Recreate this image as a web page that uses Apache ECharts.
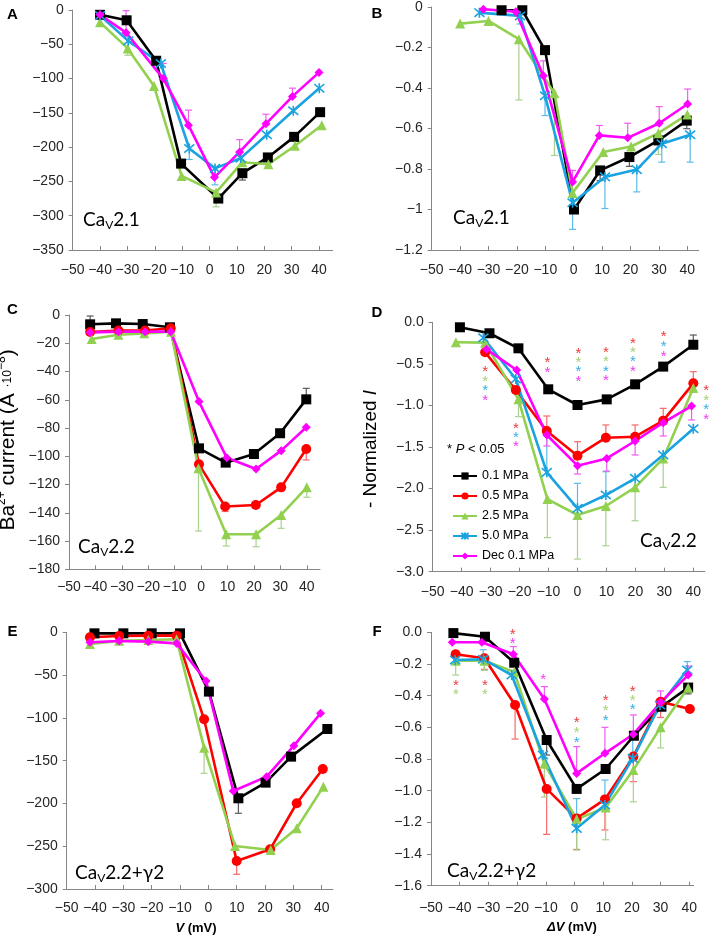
<!DOCTYPE html>
<html><head><meta charset="utf-8">
<script src="https://cdn.jsdelivr.net/npm/echarts@6/dist/echarts.min.js"></script>
<style>html,body{margin:0;padding:0;background:#fff}#c{width:709px;height:938px}</style>
</head><body><div id="c"></div>
<script>
// ---------- DATA ----------
const TICKS_X = [-50,-40,-30,-20,-10,0,10,20,30,40];
const SERIES_NAMES = {k01:'0.1 MPa', k05:'0.5 MPa', k25:'2.5 MPa', k50:'5.0 MPa', kDec:'Dec 0.1 MPa'};

// Panel A (CaV2.1, current)
const A_k01_V = [-40, -30.3, -19.5, -10.4, 3.2, 12, 21.3, 30.9, 40.4];
const A_k01_I = [-7, -15, -74, -224, -275, -238, -215, -185, -149];
const A_k01_E = [null, null, null, null, null, -10, null, null, null];
const A_k25_V = [-40, -29.9, -20.3, -10.2, 2.4, 12, 21.5, 31.2, 41];
const A_k25_I = [-18, -56, -111, -242, -266, -222, -225, -198, -168];
const A_k25_E = [null, -10, null, null, -21, null, -6, null, null];
const A_k50_V = [-40, -29.7, -17.8, -7.4, 2, 11.4, 20.9, 30.6, 40.1];
const A_k50_I = [-8, -45, -78, -202, -231, -216, -182, -147, -114];
const A_k50_E = [null, null, null, -16, -24, null, null, null, null];
const A_kDec_V = [-40, -30.5, -16.9, -7.7, 1.8, 11, 20.6, 30.3, 40];
const A_kDec_I = [-7, -33, -100, -168, -244, -207, -166, -126, -91];
const A_kDec_E = [null, 32, 22, 22, null, 18, 14, 12, null];

// Panel B (CaV2.1, normalized)
const B_k01_V = [-25.4, -18.1, -10.1, 0.1, 9.3, 19.6, 29.8, 39.8];
const B_k01_I = [-0.016, -0.016, -0.213, -1.0, -0.807, -0.741, -0.659, -0.561];
const B_k01_E = [null, null, null, null, -0.05, -0.046, null, -0.04];
const B_k25_V = [-40, -30, -19.3, -6.8, -0.4, 10.4, 20.2, 29.8, 40];
const B_k25_I = [-0.082, -0.069, -0.159, -0.426, -0.918, -0.716, -0.689, -0.623, -0.531];
const B_k25_E = [null, null, -0.3, -0.307, null, null, -0.04, -0.105, null];
const B_k50_V = [-33.2, -18.9, -10.1, -0.4, 11, 22.2, 31, 41];
const B_k50_I = [-0.028, -0.044, -0.438, -0.967, -0.839, -0.803, -0.675, -0.631];
const B_k50_E = [null, -0.04, -0.098, -0.131, -0.156, -0.11, -0.091, -0.135];
const B_kDec_V = [-31.8, -20.4, -10.7, -0.4, 9, 19, 30.1, 40.1];
const B_kDec_I = [-0.011, -0.023, -0.339, -0.864, -0.634, -0.646, -0.574, -0.479];
const B_kDec_E = [null, null, 0.073, 0.057, 0.049, 0.072, 0.082, 0.074];

// Panel C (CaV2.2, current)
const C_k01_V = [-42, -32.2, -22.1, -11.8, -0.8, 9.3, 20, 29.9, 39.8];
const C_k01_I = [-6.6, -5.9, -6.4, -8.7, -94.4, -104.5, -98.4, -83.7, -59.7];
const C_k01_E = [5.9, null, null, null, null, null, null, null, 7.8];
const C_k05_V = [-42, -31.3, -21.2, -11.5, -0.8, 9.1, 20.7, 30.3, 39.8];
const C_k05_I = [-12, -11, -11, -9.4, -105.7, -135.6, -134.5, -122, -94.8];
const C_k05_E = [null, null, null, null, null, -3.5, null, null, -7.8];
const C_k25_V = [-41.4, -31.3, -21.5, -11.4, -1, 9.5, 20.8, 30.3, 40];
const C_k25_I = [-17, -14, -13, -11.8, -108.5, -155.2, -155.2, -141.5, -122];
const C_k25_E = [null, null, null, null, -44.4, -8.3, -8.8, -9.5, -7];
const C_kDec_V = [-42, -31.3, -21.2, -11.5, -0.8, 9.7, 20.8, 30.3, 39.8];
const C_kDec_I = [-12.3, -11.8, -11.8, -11.8, -61.3, -101, -109, -96, -79.5];
const C_kDec_E = [null, null, null, null, null, null, null, null, null];

// Panel D (CaV2.2, normalized)
const D_k01_V = [-40.6, -30.4, -20.4, -10.1, 0, 10.1, 19.9, 29.6, 40];
const D_k01_I = [-0.06, -0.132, -0.313, -0.806, -0.995, -0.927, -0.746, -0.533, -0.27];
const D_k01_E = [null, null, 0.03, null, null, null, null, null, 0.117];
const D_k05_V = [-31.9, -21.3, -10.6, 0, 9.8, 19.9, 29.6, 40];
const D_k05_I = [-0.361, -0.814, -1.308, -1.604, -1.388, -1.376, -1.183, -0.734];
const D_k05_E = [null, null, 0.181, 0.168, 0.153, 0.141, 0.148, 0.14];
const D_k25_V = [-42, -31.9, -20.4, -10.4, 0, 9.8, 19.9, 29.6, 40];
const D_k25_I = [-0.24, -0.245, -0.927, -2.126, -2.318, -2.21, -1.985, -1.637, -0.79];
const D_k25_E = [null, null, -0.208, -0.464, -0.53, -0.477, -0.402, -0.348, null];
const D_k50_V = [-32.5, -21.3, -10.6, 0, 9.8, 19.9, 29.6, 40];
const D_k50_I = [-0.185, -0.682, -1.805, -2.238, -2.078, -1.877, -1.596, -1.28];
const D_k50_E = [null, null, 0.477, 0.301, 0.281, null, null, null];
const D_kDec_V = [-31.4, -21, -10.6, 0, 10.1, 19.9, 29.6, 39.4];
const D_kDec_I = [-0.325, -0.574, -1.356, -1.725, -1.637, -1.428, -1.207, -1.007];
const D_kDec_E = [null, null, -0.132, -0.1, -0.152, -0.168, -0.161, -0.168];

// Panel E (CaV2.2+γ2, current)
const E_k01_V = [-40.2, -30, -20, -10, 0.2, 10.6, 20.2, 29.2, 42];
const E_k01_I = [-1.2, -1.2, -1.2, -1.2, -69.3, -194, -175.7, -145.3, -113];
const E_k01_E = [null, null, null, null, null, -17.5, null, null, null];
const E_k05_V = [-41.8, -31.5, -21.2, -11.2, -1.5, 10, 21.8, 31.2, 40.4];
const E_k05_I = [-5.8, -4.3, -3.9, -3.9, -101.7, -267.2, -253.6, -199.8, -159.7];
const E_k05_E = [null, null, null, null, null, -15.6, null, null, null];
const E_k25_V = [-41.8, -31.5, -21.2, -11.2, -1.5, 9.4, 22, 31.2, 40.6];
const E_k25_I = [-13.6, -10, -9, -8.2, -134.8, -249.7, -254.4, -229, -180.4];
const E_k25_E = [null, null, null, null, -30, null, null, null, null];
const E_kDec_V = [-41.8, -31.5, -21.2, -11.2, -0.8, 8.8, 20.6, 30.2, 39.6];
const E_kDec_I = [-11.7, -10.1, -10.9, -12.9, -56.9, -185.4, -168.7, -132.5, -94.7];
const E_kDec_E = [null, null, null, null, null, null, null, null, null];

// Panel F (CaV2.2+γ2, normalized)
const F_k01_V = [-42.2, -31.2, -21, -9.7, 0.75, 10.85, 20.7, 30.3, 39.6];
const F_k01_I = [-0.005, -0.028, -0.192, -0.68, -0.989, -0.863, -0.653, -0.47, -0.349];
const F_k01_E = [null, null, null, -0.095, null, null, null, null, -0.04];
const F_k05_V = [-41.4, -31.4, -20.7, -9.7, 0.75, 10.6, 20.5, 30, 40.2];
const F_k05_I = [-0.139, -0.164, -0.459, -0.989, -1.175, -1.055, -0.785, -0.438, -0.484];
const F_k05_E = [null, -0.07, -0.215, -0.287, -0.196, -0.193, -0.158, -0.1, null];
const F_k25_V = [-41.4, -31.4, -21, -10.5, 0.75, 10.85, 20.5, 30, 39.6];
const F_k25_I = [-0.18, -0.18, -0.25, -0.83, -1.18, -1.107, -0.87, -0.6, -0.35];
const F_k25_E = [-0.09, -0.06, null, -0.21, -0.195, -0.203, -0.2, -0.13, null];
const F_k50_V = [-41.6, -31.8, -21.9, -11, 0.75, 10.6, 20.3, 29.8, 39.3];
const F_k50_I = [-0.175, -0.17, -0.27, -0.775, -1.238, -1.09, -0.796, -0.459, -0.238];
const F_k50_E = [0.055, 0.06, null, null, 0.188, 0.157, 0.133, null, 0.053];
const F_kDec_V = [-42.6, -32.3, -21.3, -10.5, 0.75, 10.6, 20.5, 30, 39.6];
const F_kDec_I = [-0.063, -0.063, -0.139, -0.421, -0.891, -0.764, -0.644, -0.442, -0.27];
const F_kDec_E = [null, null, 0.049, 0.078, 0.169, 0.164, 0.122, 0.072, 0.057];

// Significance asterisks: [V, position, series]
const D_SIG = [
  [-31.9,-0.566,'k05'],[-31.9,-0.682,'k25'],[-31.9,-0.786,'k50'],[-31.9,-0.906,'kDec'],
  [-21.3,-1.243,'k05'],[-21.3,-1.356,'k50'],[-21.3,-1.468,'kDec'],
  [-10.4,-0.453,'k05'],[-10.4,-0.574,'kDec'],
  [0.3,-0.341,'k05'],[0.3,-0.453,'k25'],[0.3,-0.562,'k50'],[0.3,-0.682,'kDec'],
  [9.8,-0.333,'k05'],[9.8,-0.445,'k25'],[9.8,-0.562,'k50'],[9.8,-0.674,'kDec'],
  [19.1,-0.221,'k05'],[19.1,-0.333,'k25'],[19.1,-0.445,'k50'],[19.1,-0.562,'kDec'],
  [29.8,-0.144,'k05'],[29.8,-0.265,'k50'],[29.8,-0.381,'kDec'],
  [44.4,-0.794,'k05'],[44.4,-0.914,'k25'],[44.4,-1.023,'k50'],[44.4,-1.143,'kDec']
];
const F_SIG = [
  [-41.3,-0.318,'k05'],[-41.3,-0.379,'k25'],
  [-31.2,-0.318,'k05'],[-31.2,-0.379,'k25'],
  [-21.5,0.004,'k05'],[-21.5,-0.055,'kDec'],
  [-10.9,-0.28,'kDec'],
  [0.75,-0.554,'k05'],[0.75,-0.613,'k25'],[0.75,-0.676,'k50'],
  [10.85,-0.417,'k05'],[10.85,-0.476,'k25'],[10.85,-0.539,'k50'],
  [20.3,-0.354,'k05'],[20.3,-0.413,'k25'],[20.3,-0.469,'k50']
];

// ---------- STYLE ----------
const COL = {k01:'#000000', k05:'#ff0000', k25:'#92d050', k50:'#1aa3e0', kDec:'#ff00ff'};
const ERRCOL = {k01:'#595959', k05:'#f46a6a', k25:'#a9d18e', k50:'#5bbbe8', kDec:'#f25cf2'};
const STARCOL = {k01:'#000', k05:'#ee3b3b', k25:'#a3cf73', k50:'#35aee6', kDec:'#f03cf0'};
const STAR_PATH = 'path://M0,0L10,10M10,0L0,10M5,-1L5,11';
const SYM = {k01:['rect',10], k05:['circle',10], k25:['triangle',10], k50:[STAR_PATH,10], kDec:['diamond',9]};
const TXT_FONT = 'Liberation Sans, Arial, sans-serif';

const PANELS = [
  {id:'A', grid:{left:72.7, top:10, width:260, height:240}, xMax:45, yMin:-350, yInt:50, xm:13, fmt:'int',
   s:{k01:[A_k01_V,A_k01_I,A_k01_E], k25:[A_k25_V,A_k25_I,A_k25_E], k50:[A_k50_V,A_k50_I,A_k50_E], kDec:[A_kDec_V,A_kDec_I,A_kDec_E]}},
  {id:'B', grid:{left:431.7, top:6, width:267, height:244}, xMax:44, yMin:-1.2, yInt:0.2, xm:13, fmt:'gen',
   s:{k01:[B_k01_V,B_k01_I,B_k01_E], k25:[B_k25_V,B_k25_I,B_k25_E], k50:[B_k50_V,B_k50_I,B_k50_E], kDec:[B_kDec_V,B_kDec_I,B_kDec_E]}},
  {id:'C', grid:{left:69, top:315, width:251, height:254.3}, xMax:45, yMin:-180, yInt:20, xm:10.5, fmt:'int',
   s:{k01:[C_k01_V,C_k01_I,C_k01_E], k05:[C_k05_V,C_k05_I,C_k05_E], k25:[C_k25_V,C_k25_I,C_k25_E], kDec:[C_kDec_V,C_kDec_I,C_kDec_E]}},
  {id:'D', grid:{left:432.7, top:322.3, width:272.2, height:249.4}, xMax:44, yMin:-3, yInt:0.5, xm:13, fmt:'fix1', sig:D_SIG,
   s:{k01:[D_k01_V,D_k01_I,D_k01_E], k05:[D_k05_V,D_k05_I,D_k05_E], k25:[D_k25_V,D_k25_I,D_k25_E], k50:[D_k50_V,D_k50_I,D_k50_E], kDec:[D_kDec_V,D_kDec_I,D_kDec_E]}},
  {id:'E', grid:{left:66.7, top:632.3, width:266.3, height:256.7}, xMax:44, yMin:-300, yInt:50, xm:12.5, fmt:'int',
   s:{k01:[E_k01_V,E_k01_I,E_k01_E], k05:[E_k05_V,E_k05_I,E_k05_E], k25:[E_k25_V,E_k25_I,E_k25_E], kDec:[E_kDec_V,E_kDec_I,E_kDec_E]}},
  {id:'F', grid:{left:431, top:632.3, width:262.6, height:253.4}, xMax:41.5, yMin:-1.6, yInt:0.2, xm:15.5, fmt:'fix1', sig:F_SIG,
   s:{k01:[F_k01_V,F_k01_I,F_k01_E], k05:[F_k05_V,F_k05_I,F_k05_E], k25:[F_k25_V,F_k25_I,F_k25_E], k50:[F_k50_V,F_k50_I,F_k50_E], kDec:[F_kDec_V,F_kDec_I,F_kDec_E]}}
];

const minus = s => String(s).replace('-', '\u2212');
const FMT = {
  int: v => minus(v),
  gen: v => minus(Math.round(v*10)/10),
  fix1: v => minus((Math.abs(v) < 1e-9 ? 0 : v).toFixed(1))
};

const grids = [], xAxes = [], yAxes = [], series = [];
PANELS.forEach((p, gi) => {
  grids.push(Object.assign({containLabel:false}, p.grid));
  xAxes.push({
    gridIndex: gi, type:'value', min:-50, max:p.xMax,
    axisLine:{onZero:false, lineStyle:{color:'#868686', width:1}},
    axisTick:{show:true, inside:true, length:4, customValues:TICKS_X, lineStyle:{color:'#868686'}},
    axisLabel:{customValues:TICKS_X, margin:p.xm, fontSize:14, fontFamily:TXT_FONT, color:'#262626', formatter: v => minus(v)},
    splitLine:{show:false}
  });
  yAxes.push({
    gridIndex: gi, type:'value', min:p.yMin, max:0, interval:p.yInt,
    axisLine:{show:true, onZero:false, lineStyle:{color:'#868686', width:1}},
    axisTick:{show:true, inside:false, length:4, lineStyle:{color:'#868686'}},
    axisLabel:{margin:9, fontSize:14, fontFamily:TXT_FONT, color:'#262626', formatter: FMT[p.fmt]},
    splitLine:{show:false}
  });
  Object.keys(p.s).forEach(k => {
    const [V, I, E] = p.s[k];
    const errData = [];
    V.forEach((v, i) => { if (E[i] != null) errData.push([v, I[i], I[i] + E[i]]); });
    const ec = ERRCOL[k];
    series.push({
      type:'custom', name:'err'+p.id+k, xAxisIndex:gi, yAxisIndex:gi, z:1, silent:true,
      data: errData, encode:{x:0, y:[1,2]},
      renderItem: (params, api) => {
        const p1 = api.coord([api.value(0), api.value(1)]);
        const p2 = api.coord([api.value(0), api.value(2)]);
        return {type:'group', children:[
          {type:'line', shape:{x1:p1[0], y1:p1[1], x2:p2[0], y2:p2[1]}, style:{stroke:ec, lineWidth:1.2}},
          {type:'line', shape:{x1:p2[0]-3.5, y1:p2[1], x2:p2[0]+3.5, y2:p2[1]}, style:{stroke:ec, lineWidth:1.2}}
        ]};
      }
    });
  });
  Object.keys(p.s).forEach(k => {
    const [V, I] = p.s[k];
    series.push({
      type:'line', name:SERIES_NAMES[k], xAxisIndex:gi, yAxisIndex:gi, z:3,
      data: V.map((v, i) => [v, I[i]]),
      symbol: SYM[k][0], symbolSize: SYM[k][1], showAllSymbol:true,
      lineStyle:{color:COL[k], width:2.6},
      itemStyle: k === 'k50' ? {color:COL[k], borderColor:COL[k], borderWidth:1.6} : {color:COL[k]},
      emphasis:{disabled:true}, animation:false
    });
  });
  if (p.sig) {
    series.push({
      type:'custom', name:'sig'+p.id, xAxisIndex:gi, yAxisIndex:gi, z:5, silent:true, clip:false,
      data: p.sig.map(d => [d[0], d[1], d[2]]),
      encode:{x:0, y:1},
      renderItem: (params, api) => {
        const d = p.sig[params.dataIndex];
        const c = api.coord([d[0], d[1]]);
        return {type:'text', x:c[0], y:c[1]+3, style:{text:'*', fill:STARCOL[d[2]], fontSize:15, fontFamily:TXT_FONT, align:'center', verticalAlign:'middle'}};
      }
    });
  }
});

function caLabel(x, y, suffix) {
  return {type:'text', x:x, y:y, z:10, style:{
    text:'{a|Ca}{s|V}{a|' + suffix + '}', align:'left', verticalAlign:'middle',
    rich:{a:{fontSize:19, fontFamily:'Lato, sans-serif', fill:'#000', lineHeight:22},
          s:{fontSize:12, fontFamily:'Lato, sans-serif', fill:'#000', lineHeight:12, verticalAlign:'bottom'}}
  }};
}
function letter(t, x, y) {
  return {type:'text', x:x, y:y, z:10, style:{text:t, fontSize:15, fontWeight:'bold', fontFamily:TXT_FONT, fill:'#000', align:'center', verticalAlign:'middle'}};
}

const graphics = [
  letter('A', 12.5, 14.5), letter('B', 377, 13.5), letter('C', 12.5, 310),
  letter('D', 377, 313), letter('E', 12.5, 632), letter('F', 377, 632),
  caLabel(83, 220, '2.1'), caLabel(453, 218, '2.1'), caLabel(78, 547, '2.2'),
  caLabel(640, 541, '2.2'), caLabel(75, 873, '2.2+\u03b32'), caLabel(447, 871, '2.2+\u03b32'),
  {type:'text', x:8, y:440, rotation:Math.PI/2, z:10, style:{
    text:'{n|Ba}{sup|2+}{n| current (A }{mid|\u00b710}{sup|\u22128}{n|)}', align:'center', verticalAlign:'middle',
    rich:{n:{fontSize:21, fontFamily:TXT_FONT, fill:'#000', lineHeight:24},
          sup:{fontSize:12, fontFamily:TXT_FONT, fill:'#000', lineHeight:12, verticalAlign:'top'},
          mid:{fontSize:12, fontFamily:TXT_FONT, fill:'#000', lineHeight:16, verticalAlign:'middle'}}
  }},
  {type:'text', x:371, y:449, rotation:Math.PI/2, z:10, style:{
    text:'{n|- Normalized }{i|I}', align:'center', verticalAlign:'middle',
    rich:{n:{fontSize:19, fontFamily:TXT_FONT, fill:'#000'}, i:{fontSize:19, fontFamily:TXT_FONT, fontStyle:'italic', fill:'#000'}}
  }},
  {type:'text', x:447, y:449, z:10, style:{
    text:'{n|* }{i|P}{n| < 0.05}', align:'left', verticalAlign:'middle',
    rich:{n:{fontSize:13, fontFamily:TXT_FONT, fill:'#000'}, i:{fontSize:13, fontFamily:TXT_FONT, fontStyle:'italic', fill:'#000'}}
  }},
  {type:'text', x:196, y:928, z:10, style:{
    text:'{bi|V}{b| (mV)}', align:'center', verticalAlign:'middle',
    rich:{bi:{fontSize:13, fontWeight:'bold', fontStyle:'italic', fontFamily:TXT_FONT, fill:'#000'},
          b:{fontSize:13, fontWeight:'bold', fontFamily:TXT_FONT, fill:'#000'}}
  }},
  {type:'text', x:572, y:927.5, z:10, style:{
    text:'{bi|\u0394V}{b| (mV)}', align:'center', verticalAlign:'middle',
    rich:{bi:{fontSize:13, fontWeight:'bold', fontStyle:'italic', fontFamily:TXT_FONT, fill:'#000'},
          b:{fontSize:13, fontWeight:'bold', fontFamily:TXT_FONT, fill:'#000'}}
  }}
];

const chart = echarts.init(document.getElementById('c'), null, {renderer:'canvas'});
chart.setOption({
  animation:false,
  backgroundColor:'#fff',
  grid: grids, xAxis: xAxes, yAxis: yAxes, series: series,
  legend:{
    data: Object.values(SERIES_NAMES), orient:'vertical', left:447, top:464,
    itemWidth:24, itemHeight:9, itemGap:6, selectedMode:false,
    textStyle:{fontSize:12.5, fontFamily:TXT_FONT, color:'#000', lineHeight:14}
  },
  graphic: graphics
});
</script></body></html>
